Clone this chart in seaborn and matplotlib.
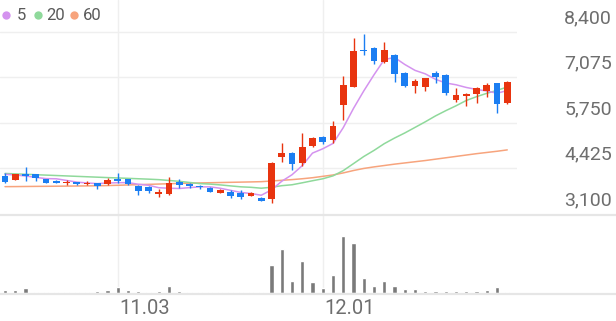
import numpy as np
import matplotlib
matplotlib.use("Agg")
import matplotlib.pyplot as plt
import seaborn as sns

# ---------------- data ----------------
opens = [4201, 4084, 4259, 4259, 4105, 4064, 3988, 4027, 3977, 3988,
         3960, 4114, 4105, 3919, 3872, 3677, 3668, 4035, 3968, 3910,
         3860, 3715, 3744, 3715, 3628, 3570, 3523, 4763, 4879, 4570,
         5074, 5345, 5249, 6267, 6791, 7876, 7934, 7510, 7722, 7207,
         6829, 6782, 7190, 7140, 6412, 6530, 6587, 6683, 6898, 6316]
highs = [4297, 4270, 4472, 4265, 4122, 4075, 4085, 4035, 4064, 3995,
         4151, 4280, 4110, 3925, 3910, 3814, 4163, 4105, 3997, 3948,
         3870, 3832, 3794, 3794, 3744, 3580, 4617, 5152, 4890, 5461,
         5345, 5355, 5810, 7120, 8225, 8324, 7960, 8092, 7750, 7220,
         7024, 7060, 7265, 7170, 6753, 6625, 6780, 6898, 6916, 6960]
lows = [4010, 4075, 4064, 4064, 3990, 3990, 3930, 3950, 3930, 3832,
        3930, 4006, 3930, 3648, 3697, 3599, 3639, 3860, 3843, 3814,
        3720, 3697, 3570, 3532, 3610, 3460, 3406, 4617, 4376, 4492,
        5036, 5132, 5152, 5830, 6791, 7722, 7451, 7500, 6927, 6800,
        6607, 6683, 6898, 6558, 6363, 6238, 6334, 6508, 6025, 6300]
closes = [4018, 4259, 4201, 4134, 4006, 3997, 4018, 3960, 4006, 3910,
          4085, 4064, 3968, 3773, 3764, 3727, 3988, 3930, 3901, 3872,
          3727, 3785, 3628, 3599, 3715, 3473, 4570, 4879, 4550, 5036,
          5298, 5199, 5656, 6849, 7838, 7838, 7547, 7867, 7160, 6820,
          6975, 7044, 7073, 6625, 6558, 6587, 6753, 6849, 6296, 6945]
volumes = [10, 8, 15, 4, 4, 4, 4, 4, 4, 6,
           8, 17, 8, 7, 4, 5, 22, 5, 3, 3,
           3, 3, 3, 3, 3, 2, 85, 135, 36, 97,
           32, 14, 56, 174, 153, 46, 22, 35, 20, 11,
           11, 6, 6, 6, 6, 5, 6, 8, 17, 2]
ma5 = [4250, 4230, 4200, 4160, 4124, 4119, 4071, 4023, 3997, 3978,
       3996, 4005, 4007, 3960, 3931, 3859, 3844, 3836, 3862, 3884,
       3884, 3843, 3783, 3722, 3691, 3640, 3797, 4047, 4237, 4502,
       4867, 4992, 5148, 5608, 6168, 6676, 7146, 7588, 7650, 7446,
       7274, 7173, 7014, 6907, 6855, 6777, 6719, 6674, 6609, 6686]
ma20 = [4274, 4262, 4250, 4238, 4226, 4214, 4202, 4190, 4178, 4166,
        4154, 4143, 4132, 4120, 4108, 4094, 4070, 4045, 4012, 3979,
        3964, 3941, 3912, 3885, 3871, 3845, 3872, 3918, 3945, 4002,
        4062, 4119, 4204, 4357, 4561, 4767, 4945, 5141, 5304, 5452,
        5614, 5777, 5949, 6101, 6243, 6398, 6508, 6606, 6693, 6789]
ma60 = [3890, 3892, 3895, 3898, 3900, 3903, 3906, 3909, 3912, 3915,
        3922, 3930, 3939, 3948, 3957, 3966, 3975, 3985, 3992, 3998,
        4004, 4010, 4016, 4022, 4028, 4035, 4055, 4075, 4095, 4120,
        4150, 4190, 4230, 4290, 4360, 4420, 4465, 4505, 4545, 4580,
        4615, 4650, 4690, 4730, 4770, 4810, 4850, 4885, 4920, 4960]
tick_positions = [11, 31]
tick_labels = ["11.03", "12.01"]
price_ticks = [3100, 4425, 5750, 7075, 8400]
legend_labels = ["5", "20", "60"]

# ---------------- style ----------------
RED = "#e8340f"
BLUE = "#1b7ef2"
C5, C20, C60 = "#d493ef", "#8fd99b", "#f7a47d"
VOL = "#7a7a7a"
GRID = "#efefef"
TXT = "#6e6e6e"

sns.set_style("white")
plt.rcParams["font.family"] = ["Roboto", "DejaVu Sans"]

W, H = 616, 321
fig = plt.figure(figsize=(W / 100, H / 100), dpi=100)


def rect(l, t, r, b):
    return [l / W, 1 - b / H, (r - l) / W, (b - t) / H]


ax = fig.add_axes(rect(0, 0, 517, 213.8))
axv = fig.add_axes(rect(0, 215, 517, 293))

n = len(closes)
idx = np.arange(n)
o = np.array(opens, float)
c = np.array(closes, float)
hi = np.array(highs, float)
lo = np.array(lows, float)
cols = np.where(c >= o, RED, BLUE)

# moving averages
for vals, col in [(ma60, C60), (ma20, C20), (ma5, C5)]:
    sns.lineplot(x=idx, y=vals, ax=ax, color=col, linewidth=1.1, zorder=2)

# candles
ax.vlines(idx, lo, hi, colors=cols, linewidth=1.0, zorder=3)
ax.bar(idx, np.maximum(np.abs(c - o), 8), bottom=np.minimum(o, c), width=0.64,
       color=cols, linewidth=0, zorder=4)

ax.set_xlim(-0.49, 49.95)
ax.set_ylim(3100, 9322)
ax.set_yticks(price_ticks[1:])
ax.set_xticks(tick_positions)
ax.grid(True, color=GRID, linewidth=1.0)
ax.tick_params(length=0, labelleft=False, labelbottom=False)
ax.set_xlabel("")
ax.set_ylabel("")
for s in ax.spines.values():
    s.set_visible(False)

for v in price_ticks:
    ax.annotate(f"{v:,}", xy=(612 / W, v), xycoords=(fig.transFigure, ax.transData),
                xytext=(0, 9.8), textcoords="offset points", ha="right", va="center",
                fontsize=14, color=TXT, annotation_clip=False)

# volume
sns.barplot(x=idx, y=volumes, ax=axv, color=VOL, width=0.4, saturation=1,
            native_scale=True, zorder=3)
axv.set_xlim(-0.49, 49.95)
axv.set_ylim(0, 237)
axv.set_xticks(tick_positions)
axv.set_yticks([])
axv.grid(True, axis="x", color=GRID, linewidth=1.0)
axv.tick_params(length=0, labelleft=False, labelbottom=False)
axv.set_xlabel("")
axv.set_ylabel("")
for s in axv.spines.values():
    s.set_visible(False)

for p, lbl in zip(tick_positions, tick_labels):
    axv.annotate(lbl, xy=(p, 0), xycoords="data", xytext=(1, -11), textcoords="offset points",
                 ha="left", va="center", fontsize=14.5, color=TXT, annotation_clip=False)

# overlay for frame lines and legend
ov = fig.add_axes([0, 0, 1, 1])
ov.set_xlim(0, W)
ov.set_ylim(H, 0)
ov.axis("off")
ov.plot([0, W], [214.5, 214.5], color="#e6e6e6", linewidth=1.6)
ov.plot([0, W], [294, 294], color="#e6e6e6", linewidth=1.6)

lx_dot = [5.7, 37.7, 74]
lx_txt = [16.5, 46.5, 83]
for xd, xt, lbl, col in zip(lx_dot, lx_txt, legend_labels, [C5, C20, C60]):
    ov.scatter([xd], [15], s=36, color=col, linewidth=0)
    ov.text(xt, 15.5, lbl, ha="left", va="center", fontsize=12, color="#5a5a5a")

fig.savefig("out.png", dpi=100)
